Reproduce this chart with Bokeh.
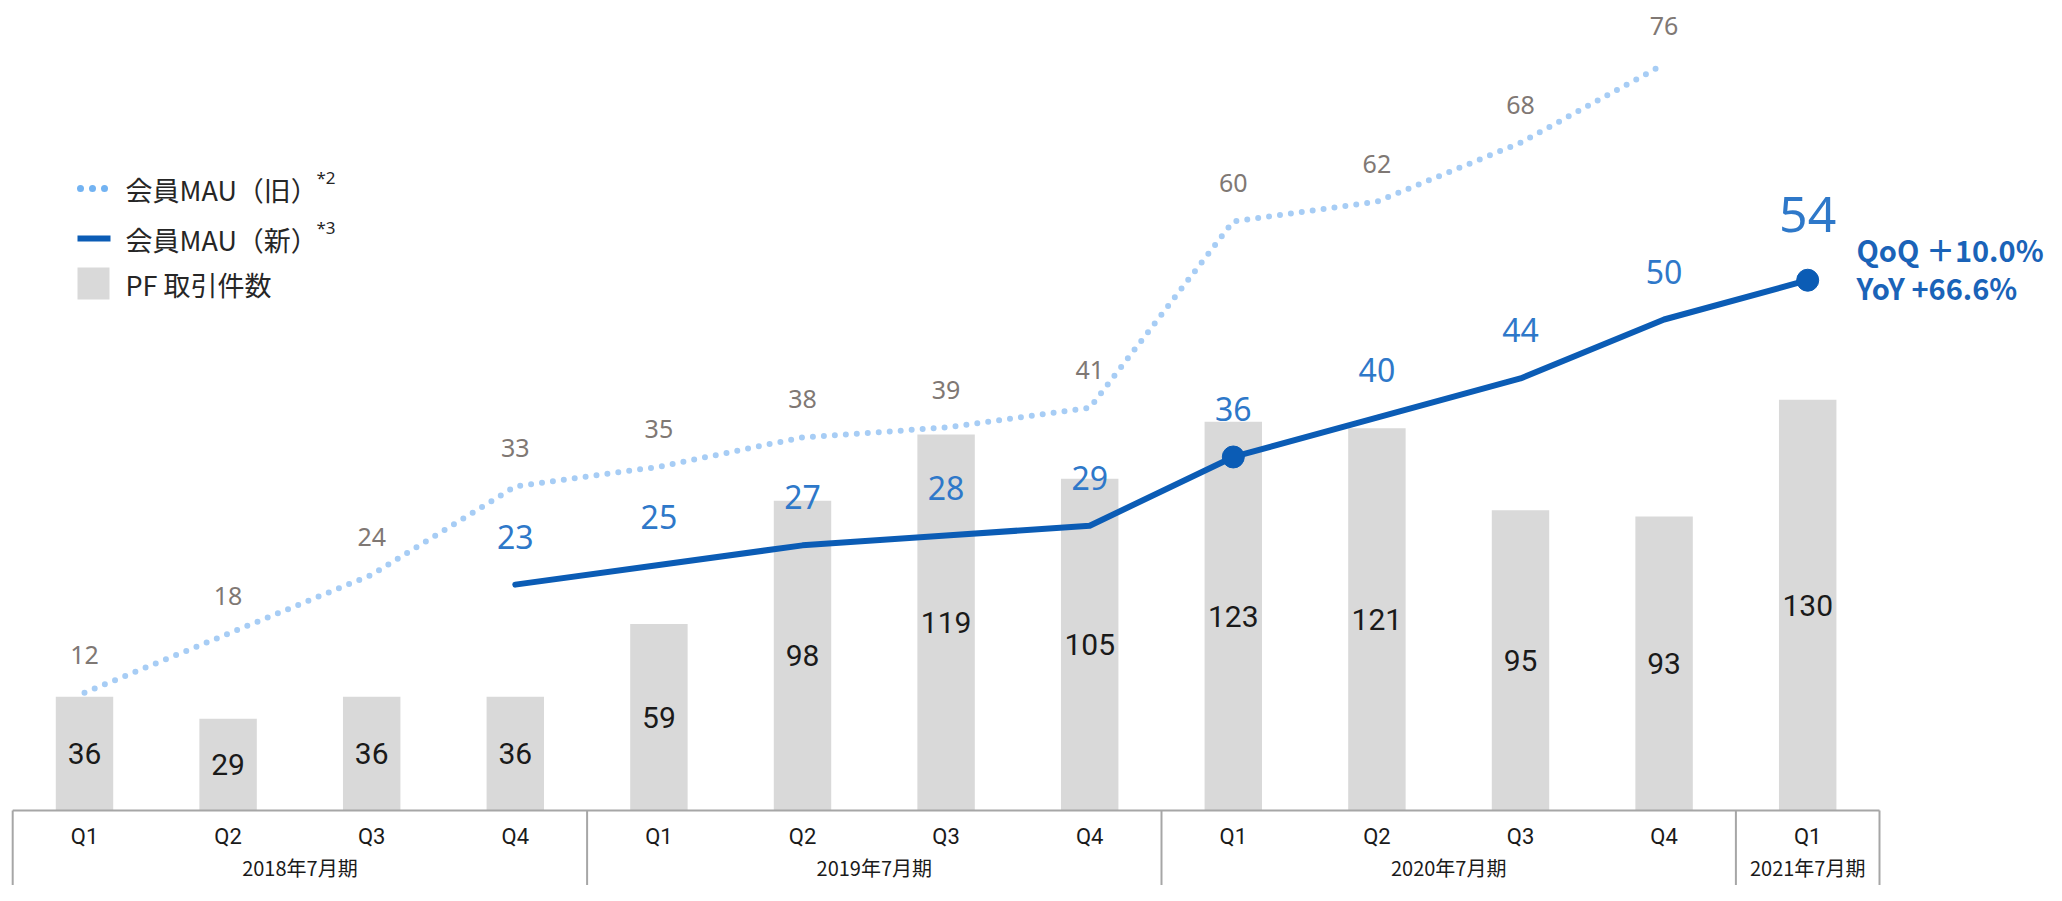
from bokeh.plotting import figure
from bokeh.models import ColumnDataSource, Range1d
from bokeh.core.properties import value
from bokeh.embed import file_html
from bokeh.resources import INLINE

# ---------------- data ----------------
quarters = ["Q1", "Q2", "Q3", "Q4", "Q1", "Q2", "Q3", "Q4", "Q1", "Q2", "Q3", "Q4", "Q1"]
fiscal_years = ["2018年7月期", "2019年7月期", "2020年7月期", "2021年7月期"]
fiscal_year_quarters = [4, 4, 4, 1]
pf_transactions = [36, 29, 36, 36, 59, 98, 119, 105, 123, 121, 95, 93, 130]
mau_old = [12, 18, 24, 33, 35, 38, 39, 41, 60, 62, 68, 76]
mau_new = [23, 25, 27, 28, 29, 36, 40, 44, 50, 54]
mau_new_first_quarter = 3
highlighted_quarters = [8, 12]
growth_labels = ["QoQ ＋10.0%", "YoY +66.6%"]
legend_labels = ["会員MAU（旧）", "会員MAU（新）", "PF 取引件数"]
legend_notes = ["*2", "*3"]

# ---------------- layout ----------------
W, H = 2046, 885
X0, DX = 84, 143.6           # px of first category, px per category
BASE = 810                   # px (from top) of the baseline
BAR_PX, MAU_PX = 3.16, 9.82  # px per unit

JP = value("Noto Sans CJK JP")
NUM = value("Roboto")


def fx(px):
    return (px - X0) / DX


def fy(py):
    return (BASE - py) / BAR_PX


p = figure(width=W, height=H,
           x_range=Range1d(-X0 / DX, (W - X0) / DX),
           y_range=Range1d(-(H - BASE) / BAR_PX, BASE / BAR_PX),
           output_backend="svg", toolbar_location=None, min_border=0,
           x_axis_location=None, y_axis_location=None)
p.extra_y_ranges = {"mau": Range1d(-(H - BASE) / MAU_PX, BASE / MAU_PX)}
p.grid.visible = False
p.outline_line_color = None
p.background_fill_color = "white"

n = len(pf_transactions)
xs = list(range(n))

# bars
bar_src = ColumnDataSource(dict(x=xs, top=pf_transactions,
                                mid=[v / 2 for v in pf_transactions],
                                label=[str(v) for v in pf_transactions]))
p.vbar(x="x", top="top", width=0.40, source=bar_src,
       fill_color="#d9d9d9", line_color=None)
p.text(x="x", y="mid", text="label", source=bar_src, text_align="center",
       text_baseline="middle", text_font=NUM, text_font_size="30px",
       text_color="#1a1a1a")

# old MAU (dotted)
old_x = list(range(len(mau_old)))
old_src = ColumnDataSource(dict(x=old_x, y=mau_old, label=[str(v) for v in mau_old]))
p.line(x="x", y="y", source=old_src, y_range_name="mau", line_color="#a7cdf5",
       line_width=6, line_dash="0 11", line_cap="round")
p.text(x="x", y="y", text="label", source=old_src, y_range_name="mau",
       y_offset=-38, text_align="center", text_baseline="middle",
       text_font=value("Noto Sans"), text_font_size="25px", text_color="#7f7874")

# new MAU (solid)
new_x = [mau_new_first_quarter + i for i in range(len(mau_new))]
new_src = ColumnDataSource(dict(x=new_x, y=mau_new))
p.line(x="x", y="y", source=new_src, y_range_name="mau", line_color="#0b5cb5",
       line_width=6, line_cap="round", line_join="round")
lab_src = ColumnDataSource(dict(x=new_x[:-1], y=mau_new[:-1],
                                label=[str(v) for v in mau_new[:-1]]))
p.text(x="x", y="y", text="label", source=lab_src, y_range_name="mau",
       y_offset=-48, text_align="center", text_baseline="middle",
       text_font=value("Noto Sans"), text_font_size="32px", text_color="#2e78c9")
p.text(x=[new_x[-1]], y=[mau_new[-1]], text=[str(mau_new[-1])], y_range_name="mau",
       y_offset=-66, text_align="center", text_baseline="middle",
       text_font=value("Noto Sans"), text_font_size="50px", text_color="#2e78c9")
hx = highlighted_quarters
hy = [mau_new[i - mau_new_first_quarter] for i in hx]
p.scatter(x=hx, y=hy, y_range_name="mau", size=22, fill_color="#0b5cb5",
          line_color="#0b5cb5")

# growth annotation
p.text(x=[fx(1856)] * 2, y=[fy(248), fy(286)], text=growth_labels,
       text_align="left", text_baseline="middle", text_font=JP,
       text_font_size="29px", text_font_style="bold", text_color="#1a63b8")

# category axis box
bounds = [-0.5]
for c in fiscal_year_quarters:
    bounds.append(bounds[-1] + c)
ybot = -(H - BASE) / BAR_PX
p.segment(x0=[bounds[0]], y0=[0], x1=[bounds[-1]], y1=[0],
          line_color="#a6a6a6", line_width=2)
p.segment(x0=bounds, y0=[0] * len(bounds), x1=bounds, y1=[ybot] * len(bounds),
          line_color="#a6a6a6", line_width=2)
p.text(x=xs, y=[fy(836)] * n, text=quarters, text_align="center",
       text_baseline="middle", text_font=NUM, text_font_size="22px",
       text_color="#1a1a1a")
centers = [(bounds[i] + bounds[i + 1]) / 2 for i in range(len(fiscal_years))]
p.text(x=centers, y=[fy(867)] * len(centers), text=fiscal_years,
       text_align="center", text_baseline="middle", text_font=JP,
       text_font_size="20px", text_color="#1a1a1a")

# legend
p.line(x=[fx(80), fx(111)], y=[fy(188)] * 2, line_color="#73b3f2", line_width=7,
       line_dash="0 12", line_cap="round")
p.line(x=[fx(77), fx(110)], y=[fy(238)] * 2, line_color="#0b5cb5", line_width=6)
p.quad(left=[fx(77)], right=[fx(109)], top=[fy(267)], bottom=[fy(299)],
       fill_color="#d9d9d9", line_color=None)
p.text(x=[fx(125)] * 3, y=[fy(189), fy(239), fy(284)], text=legend_labels,
       text_align="left", text_baseline="middle", text_font=JP,
       text_font_size="27px", text_color="#262626")
p.text(x=[fx(316)] * 2, y=[fy(177), fy(227)], text=legend_notes,
       text_align="left", text_baseline="middle", text_font=value("Noto Sans"),
       text_font_size="17px", text_color="#262626")

open("out.html", "w").write(file_html(p, INLINE))
